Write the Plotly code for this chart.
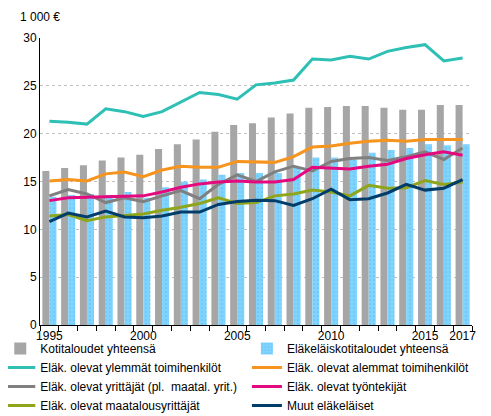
import plotly.graph_objects as go

years = [str(y) for y in range(1995, 2018)]
tick_labels = ["1995", "", "", "", "", "2000", "", "", "", "", "2005", "", "", "", "",
               "2010", "", "", "", "", "2015", "", "2017"]

kotitaloudet = [16.1, 16.4, 16.7, 17.2, 17.5, 17.8, 18.4, 18.9, 19.4, 20.2, 20.9, 21.1,
                21.7, 22.1, 22.7, 22.8, 22.9, 22.9, 22.7, 22.5, 22.5, 23.0, 23.0]
elakelaiskotitaloudet = [13.4, 13.6, 13.7, 13.6, 13.9, 13.3, 14.4, 15.0, 15.2, 15.7, 15.9, 15.9,
                         15.9, 16.4, 17.5, 17.5, 17.3, 18.0, 18.3, 18.5, 18.9, 18.8, 18.9]
ylemmat = [21.3, 21.2, 21.0, 22.6, 22.3, 21.8, 22.3, 23.3, 24.3, 24.1, 23.6, 25.1,
           25.3, 25.6, 27.8, 27.7, 28.1, 27.8, 28.6, 29.0, 29.3, 27.6, 27.9]
alemmat = [15.05, 15.2, 15.05, 15.8, 16.0, 15.5, 16.2, 16.6, 16.5, 16.5, 17.1, 17.05,
           17.0, 17.6, 18.6, 18.7, 19.0, 19.2, 19.3, 19.2, 19.4, 19.4, 19.4]
yrittajat = [13.5, 14.15, 13.7, 12.8, 13.3, 12.9, 13.5, 14.05, 13.2, 14.7, 15.7, 15.0,
             16.0, 16.6, 16.1, 17.1, 17.4, 17.5, 17.2, 17.6, 18.1, 17.3, 18.5]
tyontekijat = [13.0, 13.3, 13.35, 13.4, 13.45, 13.5, 13.9, 14.4, 14.75, 14.95, 15.05, 14.95,
               14.95, 15.2, 16.5, 16.4, 16.3, 16.6, 16.8, 17.4, 17.8, 18.1, 17.75]
maatalous = [11.4, 11.55, 10.9, 11.3, 11.45, 11.6, 12.0, 12.3, 12.7, 13.3, 12.7, 12.8,
             13.5, 13.7, 14.1, 13.9, 13.5, 14.6, 14.3, 14.35, 15.1, 14.7, 14.95]
muut = [10.8, 11.7, 11.3, 11.9, 11.3, 11.2, 11.4, 11.8, 11.8, 12.6, 12.9, 13.05,
        13.0, 12.5, 13.2, 14.2, 13.1, 13.2, 13.8, 14.7, 14.1, 14.3, 15.2]

font = "Liberation Sans, Arial, sans-serif"

fig = go.Figure()
# left legend column: legend, right column: legend2
fig.add_trace(go.Bar(x=years, y=kotitaloudet, name="Kotitaloudet yhteensä",
                     legend="legend", legendrank=1,
                     marker=dict(color="#A6A6A6", line_width=0)))
fig.add_trace(go.Bar(x=years, y=elakelaiskotitaloudet, name="Eläkeläiskotitaloudet yhteensä",
                     legend="legend2", legendrank=1,
                     marker=dict(color="#7FD4FF", line_width=0,
                                 pattern=dict(shape=".", fgcolor="#4FA9DC", bgcolor="#7FD4FF",
                                              size=4, solidity=0.15))))

lines = [
    ("Eläk. olevat ylemmät toimihenkilöt", ylemmat, "#2EC0B5", "legend", 2),
    ("Eläk. olevat alemmat toimihenkilöt", alemmat, "#F7941D", "legend2", 2),
    ("Eläk. olevat yrittäjät (pl.  maatal. yrit.)", yrittajat, "#808080", "legend", 3),
    ("Eläk. olevat työntekijät", tyontekijat, "#E5097F", "legend2", 3),
    ("Eläk. olevat maatalousyrittäjät", maatalous, "#8FA61C", "legend", 4),
    ("Muut eläkeläiset", muut, "#003D6B", "legend2", 4),
]
for name, vals, col, leg, rank in lines:
    fig.add_trace(go.Scatter(x=years, y=vals, name=name, mode="lines",
                             legend=leg, legendrank=rank,
                             line=dict(color=col, width=3)))

# page body adds an 8px margin, so the figure is a bit smaller than the window
legend_style = dict(orientation="v", xref="paper", yref="paper",
                    y=-0.331, yanchor="bottom", xanchor="left",
                    font=dict(size=12), itemwidth=30, traceorder="normal",
                    bgcolor="rgba(0,0,0,0)")

fig.update_layout(
    width=483, height=408,
    margin=dict(l=32, r=19, t=30, b=91, autoexpand=False),
    plot_bgcolor="white", paper_bgcolor="white",
    font=dict(family=font, size=12, color="black"),
    barmode="group", bargap=0.25, bargroupgap=0,
    showlegend=True,
    legend=dict(x=-0.092, **legend_style),
    legend2=dict(x=0.479, **legend_style),
    annotations=[dict(text="1 000 €", x=0, xref="paper", xanchor="center",
                      y=1, yref="paper", yanchor="bottom", yshift=12,
                      showarrow=False, font=dict(size=12))],
)
fig.update_xaxes(
    type="category", tickmode="array", tickvals=years, ticktext=tick_labels,
    tickson="boundaries", ticks="outside", ticklen=5, tickcolor="black",
    tickangle=0, showline=True, linecolor="black", linewidth=1, showgrid=False,
    range=[-0.5, len(years) - 0.5],
)
fig.update_yaxes(
    range=[0, 30], dtick=5, showline=True, linecolor="black", linewidth=1,
    showgrid=True, gridcolor="#BFBFBF", griddash="dot", gridwidth=1,
    ticks="", zeroline=False,
)

fig.write_html("out.html")
